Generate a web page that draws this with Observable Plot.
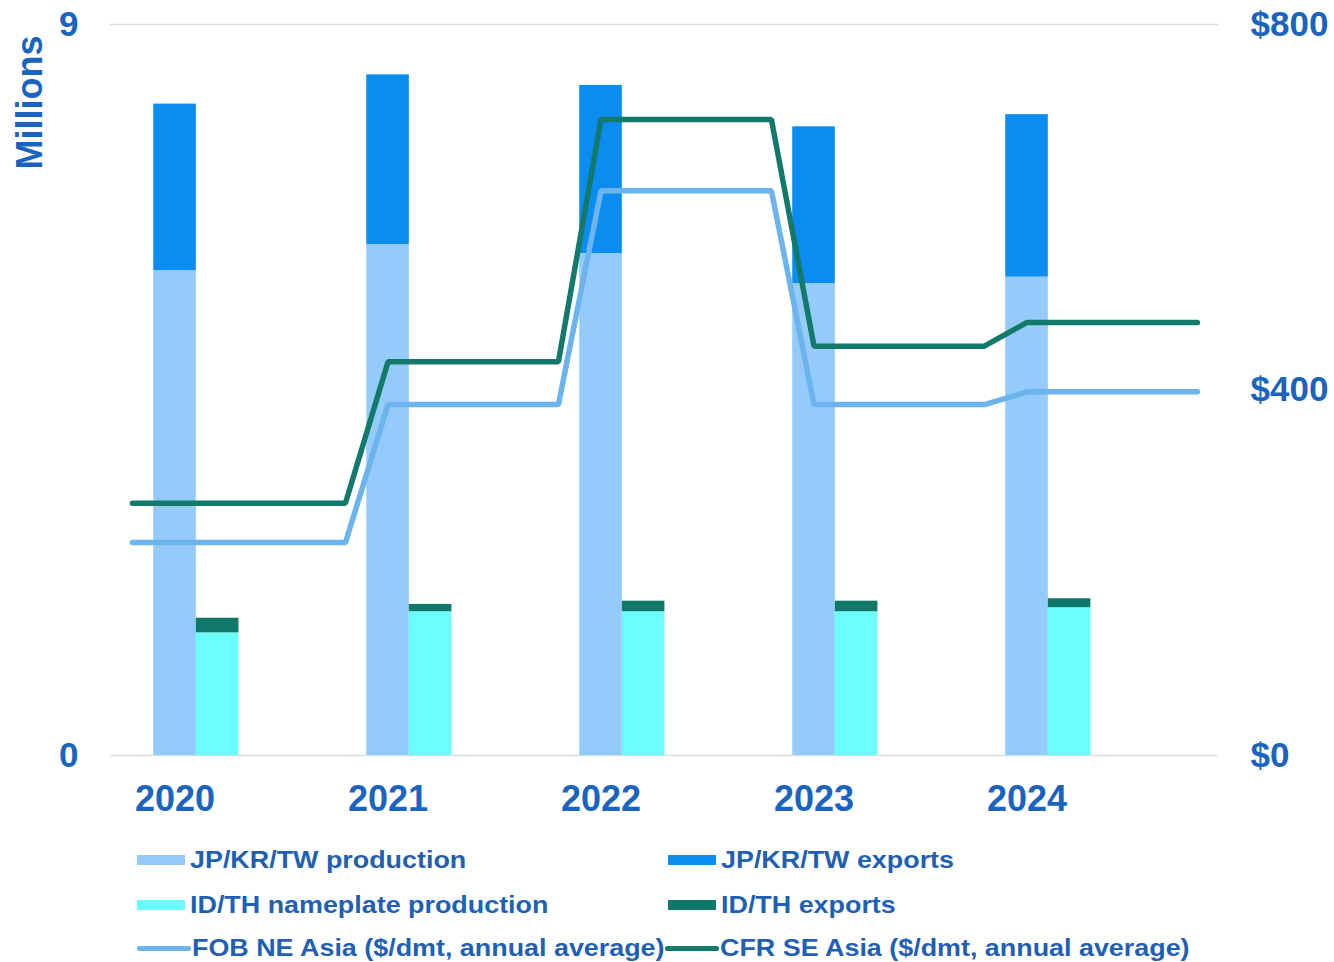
<!DOCTYPE html>
<html>
<head>
<meta charset="utf-8">
<script src="https://cdn.jsdelivr.net/npm/d3@7"></script>
<script src="https://cdn.jsdelivr.net/npm/@observablehq/plot@0.6"></script>
<style>
  html, body { margin: 0; padding: 0; background: #fff; }
  body { width: 1334px; height: 962px; overflow: hidden; position: relative; font-family: Arial, "Liberation Sans", sans-serif; }
  #chart { position: absolute; left: 0; top: 0; }
  .legend { position: absolute; left: 0; top: 0; font-weight: bold; font-size: 24px; color: #1f5fb4; }
  .item { position: absolute; display: flex; align-items: center; white-space: nowrap; height: 30px; }
  .sw { display: inline-block; flex: none; }
  .lbl { display: inline-block; transform: scaleX(1.12); transform-origin: left center; }
</style>
</head>
<body>
<div id="chart"></div>
<div class="legend" id="legend"></div>
<script>
const years = [2020, 2021, 2022, 2023, 2024];
// Millions
const jpProduction = [5.97, 6.29, 6.18, 5.81, 5.89];
const jpExports    = [2.05, 2.09, 2.07, 1.93, 2.00];
const idProduction = [1.51, 1.77, 1.77, 1.77, 1.82];
const idExports    = [0.18, 0.09, 0.13, 0.13, 0.11];
// $/dmt annual average
const fobNEAsia = [233, 384, 618, 384, 398];
const cfrSEAsia = [276, 431, 696, 448, 474];
const leftTicks = [0, 9];
const rightTicks = [0, 400, 800];

const colors = {
  jpProd: "#95cbfb",
  jpExp: "#0b8cf0",
  idProd: "#6afffb",
  idExp: "#0f7868",
  fob: "#6cb4ee",
  cfr: "#137a6b"
};
const textColor = "#1a64c0";

const rows = years.map((year, i) => ({
  year,
  jpProd: jpProduction[i],
  jpExp: jpExports[i],
  idProd: idProduction[i],
  idExp: idExports[i]
}));

const yMax = 9, priceMax = 800;
const toLeft = v => v * yMax / priceMax;

// Horizontal hold for each annual average, then a short transition to the next year
function annualSteps(values) {
  const pts = [];
  years.forEach((y, i) => {
    if (i === 0) pts.push({ t: y - 0.2, v: values[i] });
    pts.push({ t: y, v: values[i] });
    pts.push({ t: y + 0.8, v: values[i] });
  });
  return pts;
}

const W = 1334;
const plot = Plot.plot({
  width: W,
  height: 830,
  marginLeft: 110,
  marginRight: 116,
  marginTop: 24,
  marginBottom: 75,
  style: { fontFamily: 'Arial, "Liberation Sans", sans-serif', fontWeight: "bold", fontSize: "30px", color: textColor, background: "transparent", overflow: "visible" },
  x: { type: "linear", domain: [2019.697, 2024.899] },
  y: { domain: [0, yMax] },
  marks: [
    Plot.ruleY(leftTicks, { stroke: "#d8dde4", strokeWidth: 1.5 }),
    Plot.rectY(rows, { x1: d => d.year - 0.1, x2: d => d.year + 0.1, y1: 0, y2: d => d.jpProd, fill: colors.jpProd }),
    Plot.rectY(rows, { x1: d => d.year - 0.1, x2: d => d.year + 0.1, y1: d => d.jpProd, y2: d => d.jpProd + d.jpExp, fill: colors.jpExp }),
    Plot.rectY(rows, { x1: d => d.year + 0.1, x2: d => d.year + 0.3, y1: 0, y2: d => d.idProd, fill: colors.idProd }),
    Plot.rectY(rows, { x1: d => d.year + 0.1, x2: d => d.year + 0.3, y1: d => d.idProd, y2: d => d.idProd + d.idExp, fill: colors.idExp }),
    Plot.line(annualSteps(fobNEAsia), { x: "t", y: d => toLeft(d.v), stroke: colors.fob, strokeWidth: 5.5, strokeLinecap: "round", strokeLinejoin: "miter" }),
    Plot.line(annualSteps(cfrSEAsia), { x: "t", y: d => toLeft(d.v), stroke: colors.cfr, strokeWidth: 5.5, strokeLinecap: "round", strokeLinejoin: "miter" }),
    Plot.axisX(years, { tickSize: 0, tickPadding: 30, tickFormat: d => String(d), fontSize: 36, label: null }),
    Plot.axisY(leftTicks, { anchor: "left", tickSize: 0, tickPadding: 32, tickFormat: d => String(d), fontSize: 35, label: null }),
    Plot.axisY(rightTicks.map(toLeft), { anchor: "right", tickSize: 0, tickPadding: 32, tickFormat: d => "$" + Math.round(d * priceMax / yMax), fontSize: 35, label: null }),
    Plot.text(["Millions"], { frameAnchor: "top-left", dx: -94, dy: 78, rotate: -90, fontSize: 36, fontWeight: "bold", textAnchor: "middle", fill: textColor })
  ]
});
document.getElementById("chart").appendChild(plot);

// Legend
const legendItems = [
  { label: "JP/KR/TW production", color: colors.jpProd, kind: "bar", x: 137, y: 860 },
  { label: "JP/KR/TW exports", color: colors.jpExp, kind: "bar", x: 668, y: 860 },
  { label: "ID/TH nameplate production", color: colors.idProd, kind: "bar", x: 137, y: 905 },
  { label: "ID/TH exports", color: colors.idExp, kind: "bar", x: 668, y: 905 },
  { label: "FOB NE Asia ($/dmt, annual average)", color: colors.fob, kind: "line", x: 137, y: 948 },
  { label: "CFR SE Asia ($/dmt, annual average)", color: colors.cfr, kind: "line", x: 665, y: 948 }
];
const legend = document.getElementById("legend");
legendItems.forEach(it => {
  const div = document.createElement("div");
  div.className = "item";
  div.style.left = it.x + "px";
  div.style.top = (it.y - 15) + "px";
  const sw = document.createElement("span");
  sw.className = "sw";
  if (it.kind === "bar") {
    sw.style.width = "48px"; sw.style.height = "10px"; sw.style.background = it.color; sw.style.marginRight = "5px";
  } else {
    sw.style.width = "54px"; sw.style.height = "5px"; sw.style.background = it.color; sw.style.borderRadius = "2.5px"; sw.style.marginRight = "1px";
  }
  div.appendChild(sw);
  const t = document.createElement("span");
  t.className = "lbl";
  t.textContent = it.label;
  div.appendChild(t);
  legend.appendChild(div);
});
</script>
</body>
</html>
